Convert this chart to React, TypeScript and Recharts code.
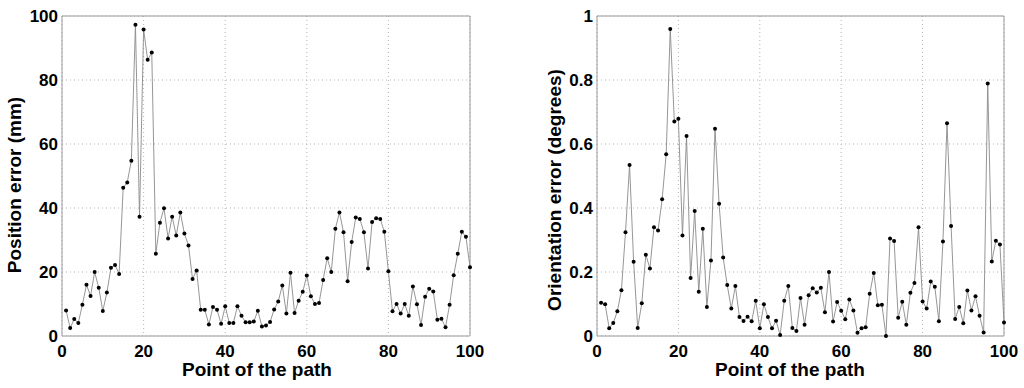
import { LineChart, Line, XAxis, YAxis, CartesianGrid, ReferenceArea } from 'recharts'

const points = Array.from({ length: 100 }, (_, i) => i + 1)

const positionErr = [
  8.0, 2.5, 5.3, 4.1, 9.8, 16.0, 12.5, 20.0, 15.1, 7.8,
  13.6, 21.3, 22.2, 19.4, 46.3, 48.0, 54.8, 97.3, 37.3, 95.8,
  86.3, 88.6, 25.7, 35.4, 39.9, 30.5, 37.3, 31.4, 38.6, 32.0,
  28.3, 17.8, 20.5, 8.2, 8.2, 3.6, 9.1, 8.2, 3.8, 9.3,
  4.1, 4.1, 9.3, 6.3, 4.3, 4.3, 4.5, 7.9, 3.0, 3.3,
  4.4, 8.3, 10.8, 15.8, 7.0, 19.8, 7.2, 11.0, 13.8, 18.9,
  12.4, 10.0, 10.3, 17.5, 24.3, 20.0, 33.5, 38.6, 32.4, 17.1,
  29.4, 37.0, 36.6, 32.4, 21.1, 35.6, 36.8, 36.6, 32.6, 20.2,
  7.7, 10.0, 7.0, 10.0, 6.3, 15.5, 9.9, 3.4, 12.3, 14.8,
  13.9, 5.1, 5.4, 2.7, 9.8, 19.0, 25.7, 32.6, 31.0, 21.5,
]

const orientationErr = [
  0.104, 0.099, 0.024, 0.041, 0.077, 0.143, 0.324, 0.534, 0.232, 0.025,
  0.102, 0.254, 0.211, 0.340, 0.330, 0.427, 0.568, 0.959, 0.670, 0.679,
  0.314, 0.625, 0.181, 0.391, 0.138, 0.335, 0.091, 0.236, 0.648, 0.413,
  0.245, 0.159, 0.086, 0.156, 0.059, 0.047, 0.060, 0.046, 0.110, 0.024,
  0.099, 0.059, 0.024, 0.048, 0.003, 0.110, 0.156, 0.025, 0.016, 0.119,
  0.035, 0.127, 0.149, 0.136, 0.151, 0.074, 0.200, 0.045, 0.106, 0.079,
  0.052, 0.114, 0.080, 0.010, 0.024, 0.027, 0.132, 0.197, 0.096, 0.098,
  0.0, 0.305, 0.297, 0.057, 0.107, 0.035, 0.135, 0.166, 0.340, 0.108,
  0.086, 0.170, 0.154, 0.046, 0.295, 0.665, 0.344, 0.053, 0.091, 0.040,
  0.142, 0.080, 0.124, 0.063, 0.011, 0.789, 0.233, 0.298, 0.286, 0.042,
]

const xTicks = [0, 20, 40, 60, 80, 100]
const posTicks = [0, 20, 40, 60, 80, 100]
const oriTicks = [0, 0.2, 0.4, 0.6, 0.8, 1]

const posData = points.map((p, i) => ({ p, v: positionErr[i] }))
const oriData = points.map((p, i) => ({ p, v: orientationErr[i] }))

const font = '"Liberation Sans", Arial, Helvetica, sans-serif'

const XTick = (props: any) => (
  <text x={props.x} y={357} textAnchor="middle" fontFamily={font} fontWeight="bold" fontSize={17} fill="#000">
    {props.payload.value}
  </text>
)

const makeYTick = (right: number) => (props: any) => (
  <text x={right} y={props.y + 6} textAnchor="end" fontFamily={font} fontWeight="bold" fontSize={17} fill="#000">
    {props.payload.value}
  </text>
)

function Panel({ data, ticks, max, yLabel, yw, pw, labelX, labelY, xLabelX }: any) {
  return (
    <LineChart width={yw + pw + 20} height={388} data={data} margin={{ top: 16, right: 20, bottom: 0, left: 0 }}>
      <CartesianGrid stroke="#b5b5b5" strokeDasharray="1 3" />
      <XAxis
        dataKey="p" type="number" domain={[0, 100]} ticks={xTicks} height={52}
        axisLine={false} tickLine={false} tick={XTick}
        label={{ content: () => (
          <text x={xLabelX} y={376} textAnchor="middle" fontFamily={font} fontWeight="bold" fontSize={19} fill="#000">
            Point of the path
          </text>
        ) }}
      />
      <YAxis
        type="number" domain={[0, max]} ticks={ticks} width={yw}
        axisLine={false} tickLine={false} tick={makeYTick(yw - 4)}
        label={{ content: () => (
          <text x={labelX} y={labelY} transform={`rotate(-90, ${labelX}, ${labelY})`} textAnchor="middle"
            fontFamily={font} fontWeight="bold" fontSize={19} fill="#000">
            {yLabel}
          </text>
        ) }}
      />
      <ReferenceArea x1={0} x2={100} y1={0} y2={max} stroke="#9a9a9a" fill="none" ifOverflow="visible" />
      <Line
        dataKey="v" type="linear" stroke="#8a8a8a" strokeWidth={0.9}
        dot={{ r: 2, fill: '#000', stroke: '#000', strokeWidth: 0 }}
        isAnimationActive={false}
      />
    </LineChart>
  )
}

export default function App() {
  return (
    <div style={{ position: 'absolute', left: 0, top: 0, width: 1024, height: 388, background: '#fff' }}>
      <div style={{ position: 'absolute', left: 0, top: 0 }}>
        <Panel data={posData} ticks={posTicks} max={100} yLabel="Position error (mm)"
          yw={62} pw={408} labelX={20.5} labelY={185} xLabelX={257} />
      </div>
      <div style={{ position: 'absolute', left: 530, top: 0 }}>
        <Panel data={oriData} ticks={oriTicks} max={1} yLabel="Orientation error (degrees)"
          yw={67} pw={407} labelX={30.5} labelY={190} xLabelX={260} />
      </div>
    </div>
  )
}
